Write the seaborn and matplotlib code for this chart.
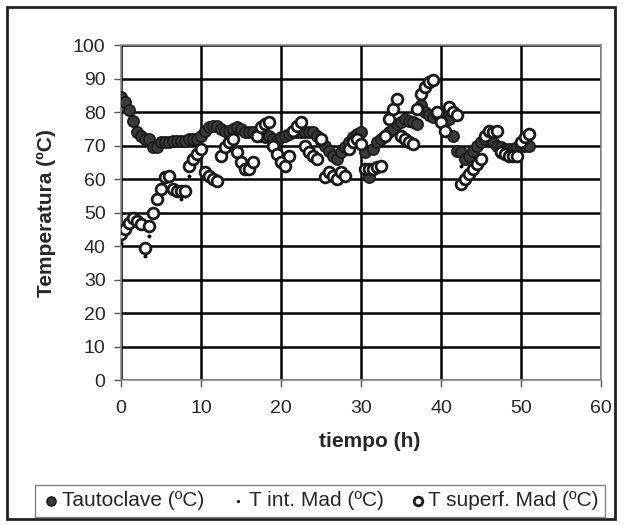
import matplotlib
matplotlib.use("Agg")
import matplotlib.pyplot as plt
import seaborn as sns
import pandas as pd
from matplotlib.patches import Rectangle

# tiempo de muestreo (h)
tiempo = [0, 0.5, 1, 1.5, 2, 2.5, 3, 3.5, 4, 4.5, 5, 5.5, 6, 6.5, 7, 7.5, 8, 8.5, 9, 9.5,
          10, 10.5, 11, 11.5, 12, 12.5, 13, 13.5, 14, 14.5, 15, 15.5, 16, 16.5, 17, 17.5, 18, 18.5, 19, 19.5,
          20, 20.5, 21, 21.5, 22, 22.5, 23, 23.5, 24, 24.5, 25, 25.5, 26, 26.5, 27, 27.5, 28, 28.5, 29, 29.5,
          30, 30.5, 31, 31.5, 32, 32.5, 33, 33.5, 34, 34.5, 35, 35.5, 36, 36.5, 37, 37.5, 38, 38.5, 39, 39.5,
          40, 40.5, 41, 41.5, 42, 42.5, 43, 43.5, 44, 44.5, 45, 45.5, 46, 46.5, 47, 47.5, 48, 48.5, 49, 49.5,
          50, 50.5, 51]

t_autoclave = [84.5, 83, 80.5, 77.5, 74, 73, 72, 72, 69.5, 69.5, 71, 71, 71, 71.5, 71.5, 71.5, 71.5, 72, 72, 72,
               73, 74.5, 75.5, 76, 76, 75, 74.5, 74.5, 75, 75.5, 75, 74, 74, 74, 73.5, 73, 72.5, 73, 72, 71.5,
               72.5, 73, 73.5, 74, 74, 74, 74, 74, 74, 73, 71.5, 70, 68.5, 67, 66, 68, 69.5, 71, 72.5, 73.5,
               74, 68, 60.5, 69, 71, 72, 73, 74, 75, 76.5, 77, 78, 77.5, 77, 76.5, 82, 80, 79, 78.5, 79.5,
               79, 78.5, 78, 73, 68.5, 68, 66, 67, 68.5, 70, 71, 72, 73, 71, 70, 69.5, 69, 69, 69, 69.5,
               70, 70, 70]

t_int = [41, 44, 46, 47.5, 47, 45.5, 37, 43, 49, 53, 56, 59.5, 60, 56, 55.5, 54, 55, 61, 65, 67,
         68, 61, 60.5, 59.5, 59, 66, 69, 70.5, 71.5, 67.5, 64.5, 62.5, 62.5, 64.5, 72.5, 75, 76, 76.5, 69.5, 67,
         64.5, 63.5, 66.5, 74, 75.5, 76.5, 69.5, 67.5, 66.5, 65.5, 71.5, 60, 61.5, 60.5, 59.5, 61.5, 60.5, 68.5, 70.5, 71.5,
         70, 62.5, 62.5, 62.5, 63, 63.5, 72.5, 77.5, 80.5, 83.5, 72.5, 71.5, 70.5, 70, 80.5, 85, 87, 88.5, 89, 79.5,
         76.5, 74, 81, 79.5, 78.5, 64, 59.5, 61, 62.5, 64, 65.5, 72.5, 74, 73.5, 74, 67.5, 67, 66.5, 66.5, 66.5,
         70.5, 72, 73]

t_superf = [43.5, 45, 47, 48.5, 47.5, 46.5, 39.5, 46, 50, 54, 57, 60.5, 61, 57, 56.5, 56.5, 56.5, 64, 66, 67.5,
            69, 62, 61, 60, 59.5, 67, 69.5, 71, 72, 68, 65, 63, 63, 65, 73, 75.5, 76.5, 77, 70, 67.5,
            65, 64, 67, 74.5, 76, 77, 70, 68, 67, 66, 72, 60.5, 62, 61, 60, 62, 61, 69, 71, 72,
            70.5, 63, 63, 63, 63.5, 64, 73, 78, 81, 84, 73, 72, 71, 70.5, 81, 85.5, 87.5, 89, 89.5, 80,
            77, 74.5, 81.5, 80, 79, 58.5, 60, 61.5, 63, 64.5, 66, 73, 74.5, 74, 74.5, 68, 67.5, 67, 67, 67,
            71, 72.5, 73.5]

df = pd.DataFrame({"tiempo": tiempo, "Tautoclave": t_autoclave,
                   "Tint": t_int, "Tsuperf": t_superf})

sns.set_style("white")
plt.rcParams["font.family"] = ["Liberation Sans", "DejaVu Sans"]

fig = plt.figure(figsize=(6.23, 5.25), dpi=100)
ax = fig.add_axes([0.194, 0.276, 0.771, 0.638])

sns.scatterplot(data=df, x="tiempo", y="Tautoclave", ax=ax, s=65, color="#3a3a3a",
                edgecolor="#1a1a1a", linewidth=1.2, label="Tautoclave (ºC)", zorder=3)
sns.scatterplot(data=df, x="tiempo", y="Tint", ax=ax, s=8, color="black",
                edgecolor="black", linewidth=0, label="T int. Mad (ºC)", zorder=4)
sns.scatterplot(data=df, x="tiempo", y="Tsuperf", ax=ax, s=60, color="white",
                edgecolor="#1a1a1a", linewidth=2.0, label="T superf. Mad (ºC)", zorder=5)

ax.set_xlim(0, 60)
ax.set_ylim(0, 100)
ax.set_xticks(range(0, 61, 10))
ax.set_yticks(range(0, 101, 10))
ax.grid(True, color="black", linewidth=1.8)
ax.set_axisbelow(True)
for s in ax.spines.values():
    s.set_color("#8c8c8c")
    s.set_linewidth(1.2)
ax.tick_params(axis="both", direction="out", length=5, width=1, color="#555555",
               labelsize=14, left=True, bottom=True)
ax.tick_params(axis="x", pad=9)
ax.tick_params(axis="y", pad=6)

ax.set_xlabel("tiempo (h)", fontsize=15, fontweight="bold")
ax.xaxis.set_label_coords(0.519, -0.155)
ax.set_ylabel("Temperatura (ºC)", fontsize=15, fontweight="bold", labelpad=12)

ax.get_legend().remove()
handles, labels = ax.get_legend_handles_labels()
leg = fig.legend(handles, labels, loc="center", bbox_to_anchor=(0.514, 0.046), ncol=3,
                 frameon=True, fontsize=15, fancybox=False, borderpad=0.3,
                 handletextpad=0.05, columnspacing=1.2, handlelength=0.9, markerscale=0.8)
leg.get_frame().set_edgecolor("#666666")
leg.get_frame().set_linewidth(1.0)

fig.patches.append(Rectangle((0.012, 0.012), 0.975, 0.975, transform=fig.transFigure,
                             fill=False, edgecolor="#222222", linewidth=2.0))

fig.savefig("out.png", dpi=100)
